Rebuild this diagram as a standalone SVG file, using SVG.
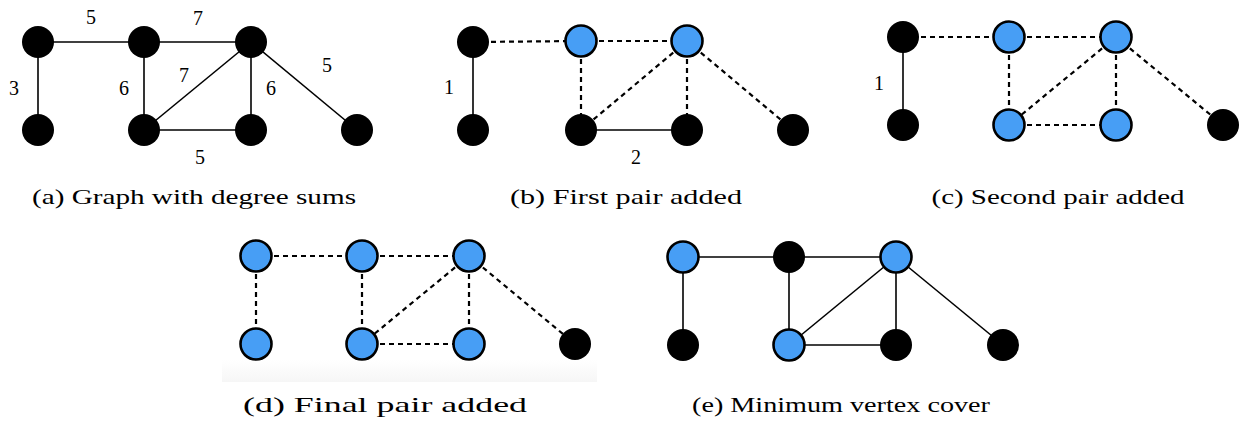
<svg xmlns="http://www.w3.org/2000/svg" width="1239" height="425" viewBox="0 0 1239 425">
<style>
.k{fill:#000}
.b{fill:#479ef5;stroke:#000;stroke-width:2.6}
.s{stroke:#000;stroke-width:1.6;fill:none}
.d{stroke:#000;stroke-width:2.2;fill:none;stroke-dasharray:5 4}
.n{font-family:"Liberation Serif","DejaVu Serif",serif;font-size:20px;text-anchor:middle;fill:#000}
.c{font-family:"Liberation Serif","DejaVu Serif",serif;font-size:22px;text-anchor:middle;fill:#000}
</style>
<defs>
<linearGradient id="band" x1="0" y1="0" x2="0" y2="1">
<stop offset="0" stop-color="#ffffff"/>
<stop offset="1" stop-color="#f6f6f6"/>
</linearGradient>
</defs>
<rect width="1239" height="425" fill="#fff"/>
<rect x="222" y="360" width="375" height="22" fill="url(#band)"/>

<!-- (a) -->
<g id="a-edges">
<line class="s" x1="38" y1="42" x2="144" y2="42"/>
<line class="s" x1="144" y1="42" x2="251" y2="42"/>
<line class="s" x1="38" y1="42" x2="38" y2="130"/>
<line class="s" x1="144" y1="42" x2="144" y2="130"/>
<line class="s" x1="251" y1="42" x2="144" y2="130"/>
<line class="s" x1="251" y1="42" x2="251" y2="130"/>
<line class="s" x1="144" y1="130" x2="251" y2="130"/>
<line class="s" x1="251" y1="42" x2="357" y2="130"/>
</g>
<g id="a-labels">
<text class="n" x="91" y="24">5</text>
<text class="n" x="198" y="25">7</text>
<text class="n" x="14" y="95">3</text>
<text class="n" x="124" y="95">6</text>
<text class="n" x="184" y="82">7</text>
<text class="n" x="271" y="95">6</text>
<text class="n" x="327" y="72">5</text>
<text class="n" x="200" y="164">5</text>
</g>
<g id="a-A"><circle class="k" cx="38" cy="42" r="16"/></g>
<g id="a-B"><circle class="k" cx="144" cy="42" r="16"/></g>
<g id="a-C"><circle class="k" cx="251" cy="42" r="16"/></g>
<g id="a-D"><circle class="k" cx="38" cy="130" r="16"/></g>
<g id="a-E"><circle class="k" cx="144" cy="130" r="16"/></g>
<g id="a-F"><circle class="k" cx="251" cy="130" r="16"/></g>
<g id="a-G"><circle class="k" cx="357" cy="130" r="16"/></g>
<text class="c" x="194" y="204" textLength="324" lengthAdjust="spacingAndGlyphs">(a) Graph with degree sums</text>

<!-- (b) -->
<g id="b-edges">
<line class="d" x1="473" y1="42" x2="581" y2="41"/>
<line class="d" x1="581" y1="41" x2="687" y2="41"/>
<line class="s" x1="473" y1="42" x2="473" y2="130"/>
<line class="d" x1="581" y1="41" x2="581" y2="130"/>
<line class="d" x1="687" y1="41" x2="581" y2="130"/>
<line class="d" x1="687" y1="41" x2="687" y2="130"/>
<line class="s" x1="581" y1="130" x2="687" y2="130"/>
<line class="d" x1="687" y1="41" x2="793" y2="130"/>
</g>
<g id="b-labels">
<text class="n" x="449" y="94">1</text>
<text class="n" x="636" y="164">2</text>
</g>
<g id="b-A"><circle class="k" cx="473" cy="42" r="16"/></g>
<g id="b-B"><circle class="b" cx="581" cy="41" r="15.5"/></g>
<g id="b-C"><circle class="b" cx="687" cy="41" r="15.5"/></g>
<g id="b-D"><circle class="k" cx="473" cy="130" r="16"/></g>
<g id="b-E"><circle class="k" cx="581" cy="130" r="16"/></g>
<g id="b-F"><circle class="k" cx="687" cy="130" r="16"/></g>
<g id="b-G"><circle class="k" cx="793" cy="130" r="16"/></g>
<text class="c" x="626" y="204" textLength="232" lengthAdjust="spacingAndGlyphs">(b) First pair added</text>

<!-- (c) -->
<g id="c-edges">
<line class="d" x1="903" y1="37" x2="1009" y2="37"/>
<line class="d" x1="1009" y1="37" x2="1116" y2="37"/>
<line class="s" x1="903" y1="37" x2="903" y2="125"/>
<line class="d" x1="1009" y1="37" x2="1009" y2="125"/>
<line class="d" x1="1116" y1="37" x2="1009" y2="125"/>
<line class="d" x1="1116" y1="37" x2="1116" y2="125"/>
<line class="d" x1="1009" y1="125" x2="1116" y2="125"/>
<line class="d" x1="1116" y1="37" x2="1223" y2="125"/>
</g>
<g id="c-labels">
<text class="n" x="879" y="90">1</text>
</g>
<g id="c-A"><circle class="k" cx="903" cy="37" r="16"/></g>
<g id="c-B"><circle class="b" cx="1009" cy="37" r="15.5"/></g>
<g id="c-C"><circle class="b" cx="1116" cy="37" r="15.5"/></g>
<g id="c-D"><circle class="k" cx="903" cy="125" r="16"/></g>
<g id="c-E"><circle class="b" cx="1009" cy="125" r="15.5"/></g>
<g id="c-F"><circle class="b" cx="1116" cy="125" r="15.5"/></g>
<g id="c-G"><circle class="k" cx="1223" cy="125" r="16"/></g>
<text class="c" x="1058" y="204" textLength="253" lengthAdjust="spacingAndGlyphs">(c) Second pair added</text>

<!-- (d) -->
<g id="d-edges">
<line class="d" x1="256" y1="256" x2="362" y2="256"/>
<line class="d" x1="362" y1="256" x2="469" y2="256"/>
<line class="d" x1="256" y1="256" x2="256" y2="344"/>
<line class="d" x1="362" y1="256" x2="362" y2="344"/>
<line class="d" x1="469" y1="256" x2="362" y2="344"/>
<line class="d" x1="469" y1="256" x2="469" y2="344"/>
<line class="d" x1="362" y1="344" x2="469" y2="344"/>
<line class="d" x1="469" y1="256" x2="575" y2="344"/>
</g>
<g id="d-A"><circle class="b" cx="256" cy="256" r="15.5"/></g>
<g id="d-B"><circle class="b" cx="362" cy="256" r="15.5"/></g>
<g id="d-C"><circle class="b" cx="469" cy="256" r="15.5"/></g>
<g id="d-D"><circle class="b" cx="256" cy="344" r="15.5"/></g>
<g id="d-E"><circle class="b" cx="362" cy="344" r="15.5"/></g>
<g id="d-F"><circle class="b" cx="469" cy="344" r="15.5"/></g>
<g id="d-G"><circle class="k" cx="575" cy="344" r="16"/></g>
<text class="c" x="385" y="412" textLength="284" lengthAdjust="spacingAndGlyphs">(d) Final pair added</text>

<!-- (e) -->
<g id="e-edges">
<line class="s" x1="683" y1="257" x2="789" y2="257"/>
<line class="s" x1="789" y1="257" x2="896" y2="257"/>
<line class="s" x1="683" y1="257" x2="683" y2="345"/>
<line class="s" x1="789" y1="257" x2="789" y2="345"/>
<line class="s" x1="896" y1="257" x2="789" y2="345"/>
<line class="s" x1="896" y1="257" x2="896" y2="345"/>
<line class="s" x1="789" y1="345" x2="896" y2="345"/>
<line class="s" x1="896" y1="257" x2="1003" y2="345"/>
</g>
<g id="e-A"><circle class="b" cx="683" cy="257" r="15.5"/></g>
<g id="e-B"><circle class="k" cx="789" cy="257" r="16"/></g>
<g id="e-C"><circle class="b" cx="896" cy="257" r="15.5"/></g>
<g id="e-D"><circle class="k" cx="683" cy="345" r="16"/></g>
<g id="e-E"><circle class="b" cx="789" cy="345" r="15.5"/></g>
<g id="e-F"><circle class="k" cx="896" cy="345" r="16"/></g>
<g id="e-G"><circle class="k" cx="1003" cy="345" r="16"/></g>
<text class="c" x="841" y="412" textLength="298" lengthAdjust="spacingAndGlyphs">(e) Minimum vertex cover</text>
</svg>
